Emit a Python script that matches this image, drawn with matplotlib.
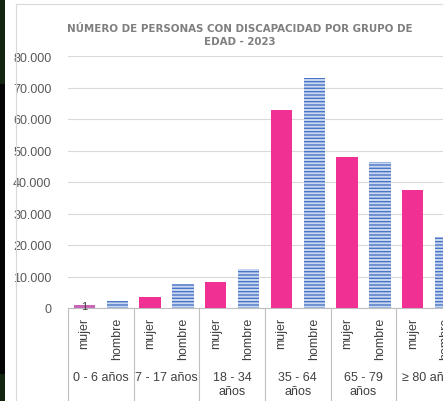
import matplotlib
matplotlib.use("Agg")
import matplotlib.pyplot as plt
from matplotlib.lines import Line2D
from matplotlib.patches import Rectangle
import matplotlib.transforms as mtransforms

plt.rcParams['font.family'] = ['Liberation Sans', 'DejaVu Sans']
plt.rcParams['hatch.linewidth'] = 1.0

groups = ['0 - 6 años', '7 - 17 años', '18 - 34\naños', '35 - 64\naños', '65 - 79\naños', '≥ 80 años']
sexes = ['mujer', 'hombre']
mujer = [1100, 3600, 8400, 62700, 48000, 37600]
hombre = [2200, 7700, 12400, 73000, 46300, 22400]
yticks = [0, 10000, 20000, 30000, 40000, 50000, 60000, 70000, 80000]
ytick_labels = ['0', '10.000', '20.000', '30.000', '40.000', '50.000', '60.000', '70.000', '80.000']

W, H = 443, 402
fig = plt.figure(figsize=(W / 100, H / 100), dpi=100)

# dark strip on the left and light chart border
fig.add_artist(Rectangle((0, 1 - 85 / H), 5 / W, 85 / H, transform=fig.transFigure, color='#13240f', lw=0))
fig.add_artist(Rectangle((0, 1 - 375 / H), 5 / W, 290 / H, transform=fig.transFigure, color='#050505', lw=0))
fig.add_artist(Rectangle((0, 0), 5 / W, 1 - 375 / H, transform=fig.transFigure, color='#13240f', lw=0))
fig.add_artist(Line2D([16 / W, 16 / W], [0, 1 - 5 / H], transform=fig.transFigure, color='#d9d9d9', lw=0.8))
fig.add_artist(Line2D([16 / W, 1], [1 - 5 / H, 1 - 5 / H], transform=fig.transFigure, color='#d9d9d9', lw=0.8))

left, bottom = 68 / W, (H - 309) / H
ax = fig.add_axes([left, bottom, 394 / W, 252 / H])

xm = [2 * i for i in range(len(groups))]
xh = [2 * i + 1 for i in range(len(groups))]
colors_m = ['#c966b9'] + ['#f03092'] * (len(groups) - 1)
ax.bar(xm, mujer, width=0.65, color=colors_m, lw=0, zorder=3)
ax.bar(xh, hombre, width=0.65, facecolor='#c9d8f0', edgecolor='#4a74c6', hatch='-----', lw=0, zorder=3)
ax.text(xm[0], mujer[0] * 0.5, '1', ha='center', va='center', fontsize=8, color='#404040', zorder=4)

ax.set_xlim(-0.5, 2 * len(groups) - 0.5)
ax.set_ylim(0, 80000)
ax.set_yticks(yticks)
ax.set_yticklabels(ytick_labels)
ax.tick_params(axis='y', length=0, pad=12, labelsize=9, labelcolor='#595959')
ax.set_xticks([])
ax.grid(axis='y', color='#d9d9d9', lw=0.8, zorder=0)
for s in ['top', 'right', 'left']:
    ax.spines[s].set_visible(False)
ax.spines['bottom'].set_color('#bfbfbf')
ax.spines['bottom'].set_linewidth(0.8)

trans = mtransforms.blended_transform_factory(ax.transData, ax.transAxes)
ax_h = 252
for i in range(len(groups) + 1):
    ax.plot([2 * i - 0.5, 2 * i - 0.5], [0, -100 / ax_h], transform=trans, color='#bfbfbf', lw=0.8, clip_on=False)
for i, g in enumerate(groups):
    for j, s in enumerate(sexes):
        ax.text(2 * i + j, -9 / ax_h, s, transform=trans, rotation=90, ha='center', va='top',
                fontsize=9, color='#404040')
    ax.text(2 * i + 0.5, -63 / ax_h, g, transform=trans, ha='center', va='top', fontsize=9,
            color='#404040', linespacing=1.25)

fig.text(240 / W, 1 - 35.5 / H, 'NÚMERO DE PERSONAS CON DISCAPACIDAD POR GRUPO DE\nEDAD - 2023',
         ha='center', va='center', fontsize=7.4, fontweight='bold', color='#7f7f7f', linespacing=1.45,
         family=['DejaVu Sans'])

fig.savefig('out.png', dpi=100)
